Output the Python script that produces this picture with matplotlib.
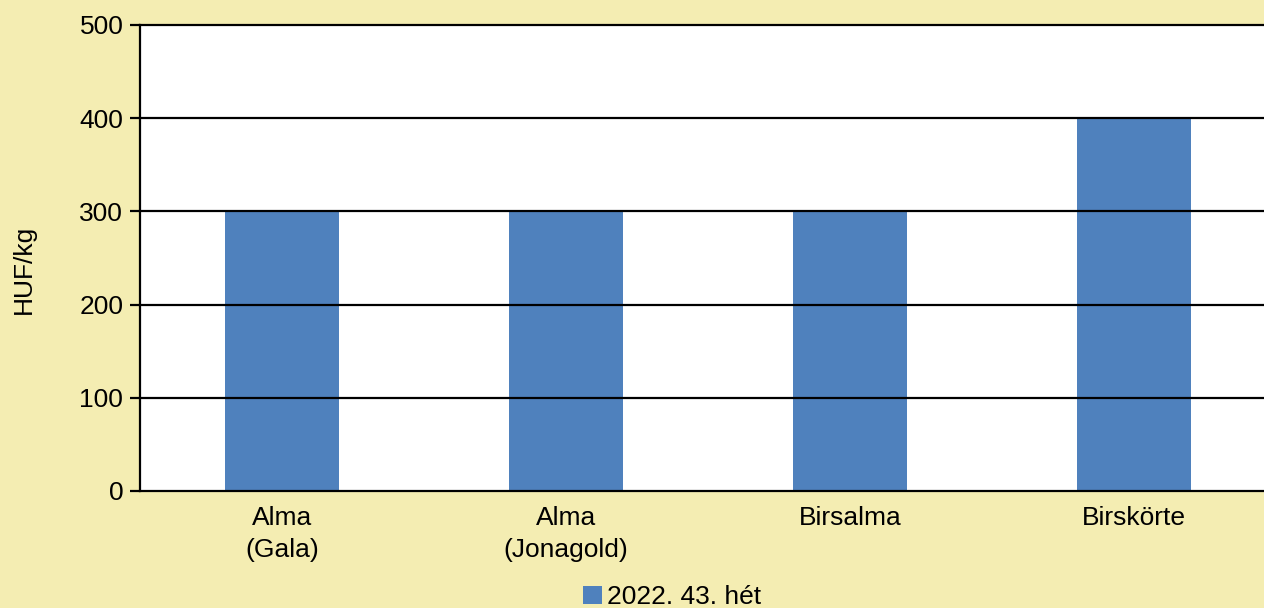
import matplotlib
matplotlib.use("Agg")
import matplotlib.pyplot as plt
from matplotlib.patches import Patch

categories = ["Alma\n(Gala)", "Alma\n(Jonagold)", "Birsalma", "Birskörte"]
values = [300, 300, 300, 400]
series_name = "2022. 43. hét"
yticks = [0, 100, 200, 300, 400, 500]

plt.rcParams['font.family'] = ['Liberation Sans', 'DejaVu Sans']

bg = "#F4EDB2"
bar_color = "#4F81BD"
fs = 19

fig = plt.figure(figsize=(12.64, 6.08), dpi=100, facecolor=bg)
ax = fig.add_axes([140/1264, 1-491/608, 1136/1264, 466/608])
ax.set_facecolor("white")

x = list(range(len(categories)))
ax.bar(x, values, width=0.40, color=bar_color, zorder=1)

ax.set_xlim(-0.5, len(categories) - 0.5)
ax.set_ylim(0, 500)
ax.set_yticks(yticks)
ax.set_yticklabels([str(t) for t in yticks], fontsize=fs)
ax.set_xticks(x)
ax.set_xticklabels(categories, fontsize=fs, linespacing=1.4)
ax.tick_params(axis='x', length=0, pad=11)
ax.tick_params(axis='y', length=7, width=1.6, pad=5, color='black')

for t in yticks[1:]:
    ax.axhline(t, color='black', linewidth=1.6, zorder=2, clip_on=False)

for s in ['top', 'right']:
    ax.spines[s].set_visible(False)
for s in ['left', 'bottom']:
    ax.spines[s].set_linewidth(1.6)
    ax.spines[s].set_color('black')
    ax.spines[s].set_zorder(3)

ax.set_ylabel("HUF/kg", fontsize=fs)
ax.yaxis.set_label_coords(-0.0915, 0.476)

handles = [Patch(facecolor=bar_color, edgecolor='none', label=series_name)]
fig.legend(handles=handles, loc='center', bbox_to_anchor=(672/1264, 1-597/608),
           frameon=False, fontsize=fs, handlelength=0.7, handleheight=0.7,
           handletextpad=0.2, borderpad=0, borderaxespad=0)

fig.savefig("out.png", dpi=100, facecolor=bg)
